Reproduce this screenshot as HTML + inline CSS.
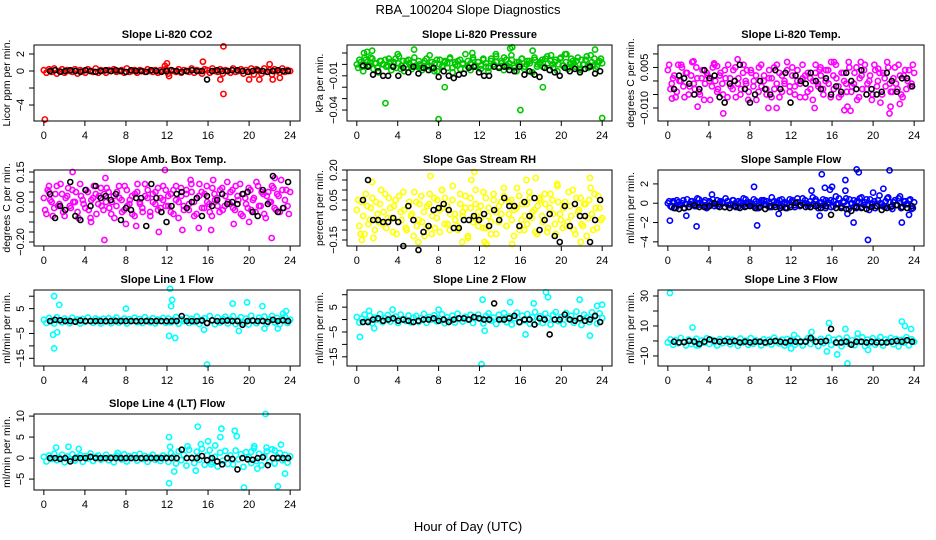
<!DOCTYPE html>
<html><head><meta charset="utf-8"><style>
html,body{margin:0;padding:0;background:#fff;}
svg{display:block;font-family:"Liberation Sans",Arial,sans-serif;}
</style></head><body>
<svg id="chart" width="936" height="540" viewBox="0 0 936 540" xmlns="http://www.w3.org/2000/svg">
<text x="468" y="14" text-anchor="middle" font-size="13">RBA_100204  Slope Diagnostics</text>
<text x="468" y="531" text-anchor="middle" font-size="13">Hour of Day (UTC)</text>
</svg>
<script>
// ---- data (values in panel units) ----
const co2Band=[0.1,-0.2,0.2,-0.1,0.3,-0.3,0,0.2,-0.2,0.1,0,-0.1,0.2,-0.3,0.1,0,-0.2,0.2,0,-0.1,0.3,-0.2,0.1,0,-0.2,0.1,0,0.2,-0.1,0,0.1,-0.2,0.3,-0.1,0,0.1,-0.2,0.1,0,-0.1,0.2,0,-0.1,0.1,-0.2,0.1,0,0.2,-0.3,0.1,0,-0.1,0.2,-0.2,0.1,0,-0.1,0.3,-0.2,0.1,0,-0.3,0.2,0.1,-0.2,0.3,0,-0.1,0.2,-0.3,0.1,0,-0.2,0.3,-0.1,0,0.2,-0.3,0.1,-0.1,0.3,-0.4,0.2,0,-0.3,0.3,-0.1,0.1,-0.4,0.2,0,-0.2,0.3,-0.1,0.1,0];
const co2Out=[[0.1,-5.7],[17.5,2.9],[17.5,-2.7],[15.5,1.1],[12,0.9],[11.8,0.6],[17.2,-1],[20,-1],[21,-1],[22.3,-1],[23,-0.8],[22,0.8],[12.2,-0.6]];
const co2Black=[0,0.1,-0.1,0,0.1,0,-0.1,0.1,0,-0.1,0,0.1,0,0.1,0,-0.1,0.1,0,0,-0.1,0.1,0,-0.1,0,0.1,0,-0.1,0,0.1,0,0,-1,0,0.1,0,0,0.1,0.1,0,-0.1,0,0.1,0,-0.1,0,0.1,0,0];

const presBand=[0,4,-2,6,2,-1,5,1,-3,3,0,4,-1,2,-2,5,1,-4,3,0,4,-2,2,-1,3,-3,1,5,-1,2,-6,4,0,-2,3,1,5,-3,2,-1,4,0,-4,3,1,6,-2,2,-1,4,1,-3,5,0,2,-2,3,6,-1,1,4,-3,2,0,5,-2,3,1,-7,4,0,2,-2,5,1,3,-3,4,0,6,-1,2,-2,5,1,3,-4,4,0,7,-1,2,5,-2,3,1];
const presBand2=[-3,2,-6,4,-1,6,-4,1,-7,3,0,-2,5,-5,2,-3,7,-1,-6,3,1,-4,6,-2,0,-5,3,-2,8,-4,1,-6,4,-1,2,-3,6,-7,0,3,-4,1,9,-2,-5,4,-1,2,-4,5,-2,-6,3,0,7,-3,1,-5,4,-2,8,-1,-6,2,5,-4,0,3,-7,6,-2,1,4,-3,7,-5,0,2,-6,5,-1,9,-4,1,3,-2,6,-5,0,4,-3,8,-1,-4,2,5];
const presOut=[[2.8,-34],[8,-48],[16,-40],[24,-47],[8.6,-20],[18.2,-20],[15.2,15],[15,14],[5.6,13],[17.2,12],[23.3,13],[1,11],[0.7,10],[1.5,12],[4,9],[11.3,10],[13.6,9],[19,8],[20.5,9]];
const presBlack=[-1,-2,-9,-6,-10,-10,-2,-10,-3,-7,-2,-8,-3,-5,-3,-11,-6,-10,-12,-9,-8,-3,-2,-7,-10,-10,-2,-3,-2,-5,-6,-2,-9,-6,-9,-11,-3,-5,-7,-10,-3,-6,-4,-7,-4,-2,-8,-6];

const tempBand=[4,-3,1,-6,6,0,-2,3,-5,2,-1,5,-4,1,-7,3,0,-2,6,-4,2,-1,4,-6,1,-3,5,-1,-5,3,0,-7,4,-2,2,-4,6,0,-3,1,-6,5,-1,3,-4,0,7,-2,2,-5,4,-1,1,-6,3,-3,0,6,-2,2,-5,4,-1,7,-3,1,-6,3,0,-4,5,-2,3,-7,1,-3,6,-1,2,-5,4,0,-8,3,-2,5,-4,1,-1,6,-5,2,-3,4,-1,3];
const tempBand2=[6,-1,2,-4,0,5,-6,3,-2,7,-3,1,-5,4,-1,2,-7,5,0,-3,3,-5,1,6,-2,4,-6,1,-3,6,-1,-4,3,0,-7,5,-2,2,-5,4,1,-3,6,-6,2,-1,4,-4,5,-2,0,-6,6,2,-4,1,-7,3,-1,5,-3,0,4,-6,2,6,-2,-5,3,-1,7,-4,-1,5,-6,2,4,-3,0,-7,6,-2,3,-5,1,7,-1,-4,5,-3,2,-6,4,0,-2,6];
const tempOut=[[2.5,7.3],[4.5,6.5],[4.8,5.5],[6.8,8],[7.7,4],[16.2,7],[18.8,7],[20.5,4.5],[14.8,4.2],[5.4,-12],[21.6,-12],[2.9,-9.5],[21.7,-9.5],[22.6,-8.5],[17.5,-9.5],[17.8,-11],[17.2,-10.8],[14.3,-10],[10.6,-10],[9.8,-10],[0.4,-6.5],[1.3,6]];
const tempBlack=[-3,2,1,-1,-5,-3,4,1,2,-6,-8,-1,0,6,-3,-8,-5,0,-3,-5,4,-3,3,-8,2,0,-1,3,0,-3,1,-5,-2,-4,3,0,-3,4,-5,-3,-5,-4,3,0,-4,1,1,-2];

const ambBand=[2,-6,5,0,-3,8,-1,4,-7,3,-2,6,0,-5,9,1,-3,5,-8,2,4,-1,7,-4,0,5,-6,3,-2,8,1,-4,6,-1,3,-7,5,0,-3,9,2,-5,4,-1,7,-3,1,6,-2,4,-6,8,0,3,-4,6,-1,5,-7,2,9,-3,4,0,-5,7,1,-2,6,-4,3,0,5,-3,8,1,-6,4,-1,7,-4,2,10,-2,5,-6,3,0,8,-3,4,-5,6,1,-2,5];
const ambBand2=[-4,6,1,-7,4,-2,9,-5,2,7,-3,0,5,-8,3,-1,6,-4,1,8,-6,3,-2,4,7,-3,0,-8,5,2,-5,8,-2,1,-6,4,9,-1,-5,3,6,-7,0,5,-4,2,8,-2,3,-5,6,1,-8,7,-2,4,-4,9,0,-6,3,5,-3,8,-1,-7,4,2,-5,7,-2,10,-1,6,-4,3,9,-7,2,-3,6,1,-5,8,-2,4,-8,5,0,7,-4,3,11,-3,6,-6];
const ambOut=[[2.8,15],[5.9,-19],[11.8,16],[11.2,-15],[13.5,-14],[15.1,-13],[16.3,-14],[22.2,-18],[6,12],[14.3,11],[16.5,11],[22.5,12],[0.5,8],[8,-11],[4.6,-10],[9,-12],[18.5,-11],[20,-10]];
const ambBlack=[4,-8,-2,-4,10,-7,-9,6,-2,8,2,3,1,4,-9,-3,-4,2,2,-12,9,2,-5,-10,-2,4,5,-3,0,2,-7,3,-2,1,4,-1,0,-1,4,5,-5,-7,6,-1,13,-5,-3,10];

const rhBand=[0,-8,4,-12,2,-5,6,-10,-2,3,-7,8,-4,1,-11,5,-6,-1,9,-9,2,-3,-13,4,-5,7,-1,-9,3,-12,6,-4,0,10,-7,2,-10,5,-2,-8,8,-3,1,-13,6,-6,3,-1,-4,9,-9,1,-6,5,-12,2,-2,7,-8,4,-5,0,11,-10,3,-3,-7,6,-1,-11,2,5,-6,3,-9,8,-2,-12,4,-5,1,-8,9,-3,-10,6,0,-7,3,-13,5,-2,8,-9,1,-4];
const rhBand2=[5,-12,-3,8,-7,1,-14,4,-6,10,-1,-9,6,-4,2,-12,7,-5,0,-10,4,-2,9,-8,3,-6,-13,2,8,-3,-9,5,-11,1,6,-7,-2,12,-5,-10,3,-1,7,-14,1,-4,10,-8,2,-9,6,-3,-12,8,-1,-6,4,11,-8,-2,5,-13,1,7,-5,-10,3,9,-4,0,-12,6,-3,8,-11,1,5,-7,12,-2,-9,4,-6,2,10,-12,-1,6,-8,3,-4,11,-10,1,7,-5];
const rhOut=[[0.5,-15],[7.2,17],[11.5,19],[11.2,15],[17.5,16],[16.6,15],[22.8,16],[15.2,-17],[12.5,-16],[12.7,-17],[8.3,10],[1.5,14],[6,-16],[10.3,-16],[19.6,13],[21.9,-16]];
const rhBlack=[5,15,-5,-5,-6,-6,-4,-6,-18,2,-5,-20,-11,-8,0,1,3,0,-9,-9,-5,-5,-3,-5,-2,-8,0,-5,6,2,2,-8,4,-3,6,-10,-5,-2,-13,-16,2,-8,3,-3,-3,-16,-5,5];

const flowBand=[0,-3,2,-5,1,-2,3,-1,-4,2,0,-3,4,-2,1,-5,2,0,-3,3,-1,1,-4,2,-2,3,0,-4,1,-2,4,-1,0,-3,2,-5,1,3,-2,0,-4,2,1,-3,4,-1,0,-2,3,-4,1,-2,5,0,-3,2,-1,4,-5,1,-2,3,0,-4,2,-1,5,-3,1,-2,4,0,-3,2,5,-4,1,-2,4,-1,-5,3,0,-3,2,6,-4,1,-2,5,-5,2,-1,3,-6,1];
const flowBand2=[2,-4,1,3,-2,0,-5,4,-1,2,-3,5,0,-2,3,-4,1,4,-1,-3,2,0,5,-2,-1,3,-4,2,0,5,-3,1,-2,4,-5,0,3,-1,2,-4,6,-2,0,3,-3,1,-5,4,1,-2,5,-3,0,3,-1,-4,6,2,-2,0,4,-5,1,3,-3,7,-1,-4,2,5,-6,0,3,-5,1,6,-2,4,-7,0,2,-3,8,-1,-4,5,1,-6,3,-2,7,-4,2,-1,4,-5];
const flowOut=[[0.2,-18],[1.8,-13],[2.8,-24],[8.4,17],[8.7,-23],[4.3,9],[10.8,-11],[14,13],[15,30],[15.3,16],[15.8,14],[16,17],[17.3,24],[17.3,13],[18.4,35],[18.6,32],[18.1,-20],[19.5,-38],[20,11],[21,15],[21.6,34],[22.8,-20],[14.8,-13],[23.5,-12],[17.5,-11]];
const flowBlack=[-5,-6,-5,-4,-2,-4,-4,-3,0,-4,-4,-5,-3,-5,-4,-3,-5,-4,-6,-3,-4,-5,-5,-4,0,-2,-4,-4,-3,-5,-3,-12,-5,-5,-6,-8,-4,-5,-6,-4,-3,-7,-5,-3,-2,-4,-5,-3];

const l1Band=[0.5,-0.8,1.2,0,-1,1.5,0.3,-0.5,1,0.2,-0.9,1.3,0,0.6,-1,0.8,-0.3,1.4,0.1,-0.7,1,0.4,-1,0.9,-0.2,1.1,-0.9,0.5,1.4,-0.6,0.2,1,-1,0.7,0,1.3,-0.4,0.8,-0.8,1.5,0.3,-0.5,1.1,-1,0.6,0,1.2,-0.7,1,-0.5,0.4,1.6,-1.1,0.7,0,1.3,-0.8,0.9,-0.3,1.8,-1.2,0.5,1.1,-0.9,2,0.2,-1.3,1.4,-0.6,0.8,1.7,-1,0.6,1.9,-1.2,0.3,1.5,-0.7,1,-1.4,2.1,0,-0.9,1.3,0.4,1.8,-1.1,0.7,2,-0.5,1.2,-1.3,0.9,1.6,-0.8,0.5];
const l1Out=[[1,10],[1.5,6.5],[0.9,-5.5],[1,-11],[1.3,-4.5],[8,5],[12.3,13],[12.5,8.5],[12.4,6],[12.2,-6],[12.8,-6.8],[15.9,-17.5],[15.6,-3.5],[18.4,7],[19.8,7.5],[21.3,6],[19,-4],[21.5,-3],[22.8,-3],[23.3,3],[23.6,4]];
const l1Black=[0,0.5,0.3,0,0,-0.3,0.2,0,0,0,0,0,0,0,0,0,0,0,0,0,0,0,0,0,0,0,2,0,0,0,0.2,-0.8,0.3,0,0,0.2,0,0,-1.5,0,0.2,0,0,-0.3,0.5,0,0.3,0];

const l2Band=[1,-1.2,0.4,2,-0.5,1.5,-1.5,0.8,0,2.2,-1,0.6,1.8,-0.8,0.3,1.2,-1.4,2,0.1,-0.6,1.6,-1.1,0.7,1.4,-0.9,0.5,2.3,-1.3,1,0,1.7,-0.7,0.4,2.1,-1.5,0.9,-0.2,1.5,-1.2,2.4,0.3,-0.8,1.1,0,1.9,-1.4,0.6,2,0.2,-1.6,1.4,2.5,-0.4,0.8,-1.8,1.9,0,2.6,-1,1.2,-2,0.5,2.8,-1.2,1.5,-0.3,2.2,-1.7,0.9,3,-0.9,1.3,-1.4,2.4,0.5,-2,1.8,3,-0.6,1,-1.9,2.7,0.2,1.5,-1.3,3.2,0.4,-2.2,2,0.8,-1,2.9,1.2,-1.6,2.5,0.6];
const l2Out=[[0.3,-7],[3.5,4],[8,4],[12.3,8],[12.2,-18],[12.5,-4.5],[15,7],[17.3,6.5],[18.5,11],[18.7,9],[21.8,8],[16.5,-6],[22.8,-6.5],[23.5,5.5],[24,6],[1.2,3.5],[1.7,-3.5]];
const l2Black=[-1,-1,0,0.5,-0.5,0,0.5,-0.5,0,-0.5,-1,-0.5,0,0,0.5,-0.5,0,-1,0,0.5,0.5,0,1,0.5,0,0,6.5,0,0,0.5,1.5,-1,0,0,-2,0.5,0,-6,0,0,2,0,-0.5,0.5,-0.5,0,1.5,-1];

const l3Band=[-1,1,-2.5,0.5,-1.5,2,-0.5,-3,1,-2,0,1.5,-2.8,0.3,-1.2,1.8,-2,0.6,-0.8,-3,1.2,-1.6,0,1.4,-2.2,0.8,-0.4,-3.2,1.6,-1,0.2,-2.6,1.9,-1.8,0.4,-0.6,-2.9,1.1,-1.4,0.7,-2.3,2.1,-0.2,-1.7,0.9,-3.1,1.3,-0.9,0.6,-2.4,1.7,-1.1,-3,0.1,1.9,-2,0.9,-0.5,-3.3,1.4,-1.5,0.3,2.2,-2.7,0.8,-1.3,1.6,-3.5,0,2.3,-1.9,0.5,-2.8,1.5,-0.7,2.4,-3.4,0.9,-1.6,1.8,-2.5,0.2,2.6,-3.1,1,-0.4,2,-2.2,1.3,-3.6,0.7,-1.1,2.5,-2.9,1.1,-0.6];
const l3Out=[[0.2,32],[2.4,9],[2.8,-3],[14,6],[15.7,12],[15.5,-7],[16.5,-9],[17.5,-15],[17.3,8],[12,-5],[19.5,-6],[22.8,13],[23.1,10],[23.7,8],[18.5,5],[12.3,4]];
const l3Black=[-0.5,-1,-0.8,0,-0.5,-2,-0.5,1,0,-0.5,0,-0.5,0,-1,-0.5,-1,-0.5,-0.5,-1,-0.5,0,-0.5,-1,0,-0.5,-0.5,-0.5,2,-0.5,-0.5,0,8,-1,-1,-0.5,-2.5,-0.5,-0.5,-1,-0.5,-1,-1,-1,-0.5,0,-0.5,0.5,-0.5];

const l4Band=[0.3,-0.8,0.6,-0.2,1,-0.5,0.1,0.8,-1,0.4,-0.3,0.9,-0.6,0.2,0.7,-0.9,0.5,-0.1,1.1,-0.7,0.3,0.6,-0.4,0,0.8,-0.5,0.2,-1,0.6,0.1,-0.3,0.9,-0.8,0.4,0,0.7,-0.6,1,-0.2,0.5,-0.9,0.3,0.8,-0.4,0.1,-0.7,0.6,0.2,-0.9,1.2,0.4,-1.3,1.6,-0.5,0.8,-1.8,2,0.1,-1.2,1.5,-0.4,2.2,-1.6,0.7,1.9,-1,0.3,-2,1.3,-0.6,1.7,-1.4,0.6,-1.5,1.8,-0.3,0.9,-2.1,1.4,0.2,-1.2,2.3,-0.7,1,-1.7,0.5,1.6,-0.9,2.1,-1.3,0.3,1.2,-0.5,0.8,-1.1,0.4];
const l4Out=[[1.2,2.5],[2.4,2.7],[3.4,2.2],[7.2,1.2],[12.2,5],[12.2,-6],[12.3,2.7],[12.7,-3.2],[14,2.8],[14.8,-3],[15,7.5],[15.3,3.3],[16,4],[16.3,-1.5],[16.7,3],[17.3,7],[17.2,5],[18.6,6.5],[18.8,5.2],[19.5,-7],[20.2,1.5],[20.5,2.8],[20.8,-2.5],[21.6,10.5],[21.7,2.5],[22.8,-6.7],[23.1,3.2],[23.5,-3.7],[22.5,1.8]];
const l4Black=[0,0,-0.2,0,-0.8,0,0,0,0.3,0,0,0,0,0,0,0,0,0,0,0,0,0,0,0,0,0,2,0,0,0,0.5,-0.5,0,-0.8,-1.5,0,-0.2,-2.7,0,-0.3,-0.4,0,0.2,-1.7,0,0,0,0];

const xTicks=[0,4,8,12,16,20,24];
const xTickLabels=["0","4","8","12","16","20","24"];

const panels=[
 {name:"co2",title:"Slope Li-820 CO2",ylab:"Licor ppm per min.",col:0,row:0,color:"#ff0000",dom:[-5.88,3.06],ticks:[2,0,-2,-4],labels:["2","0","","\u22124"],band:co2Band,band2:null,out:co2Out,black:co2Black},
 {name:"pressure",title:"Slope Li-820 Pressure",ylab:"kPa per min.",col:1,row:0,color:"#00c800",dom:[-49.6,17],ticks:[10,0,-10,-20,-30,-40],labels:["","","\u22120.01","","","\u22120.04"],band:presBand,band2:presBand2,out:presOut,black:presBlack},
 {name:"temp",title:"Slope Li-820 Temp.",ylab:"degrees C per min.",col:2,row:0,color:"#ff00ff",dom:[-14.8,13.3],ticks:[10,5,0,-5,-10],labels:["","0.005","","","\u22120.010"],band:tempBand,band2:tempBand2,out:tempOut,black:tempBlack},
 {name:"amb-box-temp",title:"Slope Amb. Box Temp.",ylab:"degrees C per min.",col:0,row:1,color:"#ff00ff",dom:[-22,16],ticks:[15,10,5,0,-5,-10,-15,-20],labels:["0.15","","","0.00","","","","\u22120.20"],band:ambBand,band2:ambBand2,out:ambOut,black:ambBlack},
 {name:"gas-stream-rh",title:"Slope Gas Stream RH",ylab:"percent per min.",col:1,row:1,color:"#ffff00",dom:[-18,20],ticks:[20,15,10,5,0,-5,-10,-15],labels:["0.20","","","0.05","","","","\u22120.15"],band:rhBand,band2:rhBand2,out:rhOut,black:rhBlack},
 {name:"sample-flow",title:"Slope Sample Flow",ylab:"ml/min per min.",col:2,row:1,color:"#0000ff",dom:[-44.3,34.4],ticks:[20,0,-20,-40],labels:["2","0","\u22122","\u22124"],band:flowBand,band2:flowBand2,out:flowOut,black:flowBlack},
 {name:"line1-flow",title:"Slope Line 1 Flow",ylab:"ml/min per min.",col:0,row:2,color:"#00ffff",dom:[-18.1,12.5],ticks:[10,5,0,-5,-10,-15],labels:["","5","","\u22125","","\u221215"],band:l1Band,band2:null,out:l1Out,black:l1Black},
 {name:"line2-flow",title:"Slope Line 2 Flow",ylab:"ml/min per min.",col:1,row:2,color:"#00ffff",dom:[-18.7,11.9],ticks:[10,5,0,-5,-10,-15],labels:["","5","","\u22125","","\u221215"],band:l2Band,band2:null,out:l2Out,black:l2Black},
 {name:"line3-flow",title:"Slope Line 3 Flow",ylab:"ml/min per min.",col:2,row:2,color:"#00ffff",dom:[-16.7,34],ticks:[30,20,10,0,-10],labels:["30","","10","","\u221210"],band:l3Band,band2:null,out:l3Out,black:l3Black},
 {name:"line4-flow",title:"Slope Line 4 (LT) Flow",ylab:"ml/min per min.",col:0,row:3,color:"#00ffff",dom:[-7.6,10.5],ticks:[10,5,0,-5],labels:["10","5","0","\u22125"],band:l4Band,band2:null,out:l4Out,black:l4Black}
];

const colX=[[34,300],[347,612],[658,924]];
const rowY=[[45,121],[170,246],[290,366],[414,490]];
const NS="http://www.w3.org/2000/svg";
const svg=document.getElementById('chart');
function mk(tag,attrs,parent){const e=document.createElementNS(NS,tag);for(const k in attrs)e.setAttribute(k,attrs[k]);(parent||svg).appendChild(e);return e;}

panels.forEach(p=>{
  const [x0,x1]=colX[p.col],[y0,y1]=rowY[p.row];
  const xs=h=>x0+(h+0.96)/25.92*(x1-x0);
  const ys=v=>y1-(v-p.dom[0])/(p.dom[1]-p.dom[0])*(y1-y0);
  const g=mk('g',{});
  
  
  const t=mk('text',{x:(x0+x1)/2,y:y0-7,'text-anchor':'middle','font-size':'11','font-weight':'bold'},g);
  t.textContent=p.title;
  
  
  const yl=mk('text',{transform:`translate(${x0-24},${(y0+y1)/2}) rotate(-90)`,'text-anchor':'middle','font-size':'10.5'},g);
  yl.textContent=p.ylab;
  
  
  const pg=mk('g',{fill:'none','stroke-width':'1.6'},g);
  
  
  const n=p.band.length;
  p.band.forEach((v,i)=>{
    const c=mk('circle',{cx:xs(i*24/(n-1)),cy:ys(v),r:2.6,stroke:p.color},pg);
    
    
  });
  if(p.band2){
    const n2=p.band2.length;
    p.band2.forEach((v,i)=>{
      const c=mk('circle',{cx:xs((i+0.5)*24/n2),cy:ys(v),r:2.6,stroke:p.color},pg);
      
      
    });
  }
  p.out.forEach(d=>{
    const c=mk('circle',{cx:xs(d[0]),cy:ys(d[1]),r:2.6,stroke:p.color},pg);
    
    
  });
  const m=p.black.length;
  p.black.forEach((v,i)=>{
    const c=mk('circle',{cx:xs(0.6+i*23.2/(m-1)),cy:ys(v),r:2.5,stroke:'#000'},pg);
    
    
  });
  const b=mk('rect',{x:x0,y:y0,width:x1-x0,height:y1-y0,fill:'none',stroke:'#000','stroke-width':'1'},g);
  
  
  xTicks.forEach((h,i)=>{
    mk('line',{x1:xs(h),x2:xs(h),y1:y1,y2:y1+5,stroke:'#000'},g);
    const tl=mk('text',{x:xs(h),y:y1+18,'text-anchor':'middle','font-size':'11'},g);
    tl.textContent=xTickLabels[i];
    
    
  });
  mk('line',{x1:xs(0),x2:xs(24),y1:y1,y2:y1,stroke:'#000'},g);
  p.ticks.forEach((v,i)=>{
    mk('line',{x1:x0-5,x2:x0,y1:ys(v),y2:ys(v),stroke:'#000'},g);
    if(p.labels[i]){
      const tl=mk('text',{transform:`translate(${x0-10},${ys(v)}) rotate(-90)`,'text-anchor':'middle','font-size':'11'},g);
      tl.textContent=p.labels[i];
      
      
    }
  });
});
</script>
</body></html>
